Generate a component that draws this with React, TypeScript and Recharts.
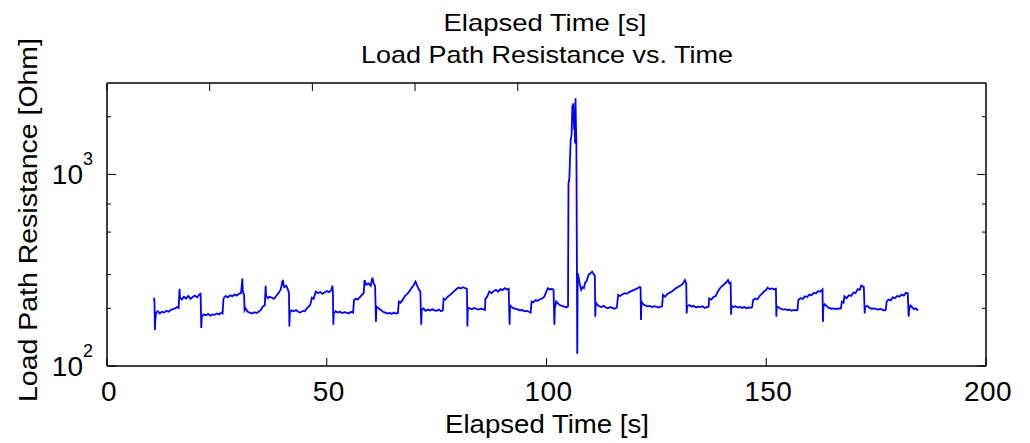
import { Line, LineChart, XAxis, YAxis } from "recharts";

// elapsed time [s], one row per step of the load cycle
const time = [
    10.7, 10.8, 10.9, 11.0, 11.2, 11.6, 12.0, 12.5, 13.0, 13.5, 14.0, 14.5, 15.0, 15.5, 16.0, 16.3,
    16.5, 16.6, 17.0, 17.5, 18.0, 18.5, 19.0, 19.5, 20.0, 20.5, 21.0, 21.3,
    21.45, 21.55, 22.0, 22.5, 23.0, 23.5, 24.0, 24.5, 25.0, 25.5, 26.0, 26.3,
    26.5, 27.0, 27.5, 28.0, 28.5, 29.0, 29.5, 30.0, 30.5, 30.8, 30.9, 31.2,
    31.3, 31.5, 32.0, 32.5, 33.0, 33.5, 34.0, 34.5, 35.0, 35.5, 35.9,
    36.1, 36.2, 36.6, 37.0, 37.5, 38.0, 38.5, 39.0, 39.5, 40.0, 40.3, 40.8, 41.2, 41.4,
    41.5, 41.6, 42.0, 42.5, 43.0, 43.5, 44.0, 44.5, 45.0, 45.5, 46.0, 46.3,
    46.6, 47.0, 47.5, 48.0, 48.5, 49.0, 49.5, 50.0, 50.5, 51.0, 51.3, 51.4,
    51.5, 51.6, 52.0, 52.5, 53.0, 53.5, 54.0, 54.5, 55.0, 55.5, 56.0,
    56.2, 56.6, 57.0, 57.5, 58.0, 58.4, 58.6, 59.0, 59.5, 60.0, 60.4, 60.7, 61.0,
    61.2, 61.3, 61.8, 62.3, 62.8, 63.3, 63.8, 64.3, 64.8, 65.3, 65.8, 66.2,
    66.4, 66.8, 67.3, 67.8, 68.3, 68.8, 69.3, 69.8, 70.2, 70.6, 71.0, 71.3,
    71.5, 71.6, 72.0, 72.5, 73.0, 73.5, 74.0, 74.5, 75.0, 75.5, 76.0, 76.4,
    76.6, 77.0, 77.5, 78.0, 78.5, 79.0, 79.6, 80.0, 80.5, 81.0, 81.5, 81.9,
    82.0, 82.1, 82.5, 83.0, 83.5, 84.0, 84.5, 85.0, 85.5, 86.0,
    86.1, 86.5, 87.0, 87.5, 88.0, 88.5, 89.0, 89.5, 90.0, 90.5, 91.0, 91.4,
    91.6, 91.7, 92.0, 92.5, 93.0, 93.5, 94.0, 94.5, 95.0, 95.5, 96.0, 96.4,
    96.6, 97.0, 97.5, 98.0, 98.5, 99.0, 99.5, 100.0, 100.3, 100.7, 101.2, 101.6,
    101.8, 101.9, 102.2, 102.6, 103.0, 103.5, 104.0, 104.5, 104.9,
    105.0, 105.2, 105.5, 105.7, 105.9, 106.0, 106.1, 106.3, 106.4, 106.5, 106.6, 106.7, 106.8, 107.0,
    107.1, 107.3, 107.6, 107.9, 108.2, 108.5, 108.8, 109.2, 109.6, 110.0, 110.4, 110.8, 111.0,
    111.1, 111.2, 111.6, 112.0, 112.5, 113.0, 113.5, 114.0, 114.5, 115.0, 115.5, 116.0,
    116.3, 116.8, 117.3, 117.8, 118.3, 118.8, 119.3, 119.8, 120.3, 120.8, 121.2, 121.4,
    121.5, 121.6, 122.0, 122.5, 123.0, 123.5, 124.0, 124.5, 125.0, 125.5, 126.0, 126.3,
    126.5, 127.0, 127.5, 128.0, 128.5, 129.0, 129.5, 130.0, 130.5, 131.0, 131.5, 131.8,
    131.9, 132.0, 132.5, 133.0, 133.5, 134.0, 134.5, 135.0, 135.5, 136.0, 136.5, 136.9,
    137.0, 137.5, 138.0, 138.5, 139.0, 139.5, 140.0, 140.5, 141.0, 141.3, 141.6, 141.9,
    142.0, 142.1, 142.5, 143.0, 143.5, 144.0, 144.5, 145.0, 145.5, 146.0, 146.5, 146.8,
    147.0, 147.5, 148.0, 148.5, 149.0, 149.5, 150.0, 150.3, 150.8, 151.3, 151.8, 152.2,
    152.3, 152.4, 152.8, 153.3, 153.8, 154.3, 154.8, 155.3, 155.8, 156.3, 156.8, 157.1,
    157.3, 157.8, 158.3, 158.8, 159.3, 159.8, 160.3, 160.8, 161.3, 161.8, 162.3, 162.8,
    162.9, 163.0, 163.3, 163.8, 164.3, 164.8, 165.3, 165.8, 166.3, 166.7, 167.0,
    167.2, 167.6, 167.8, 168.3, 168.8, 169.3, 169.8, 170.3, 170.8, 171.3, 171.6, 172.2,
    172.4, 172.5, 173.0, 173.5, 174.0, 174.5, 175.0, 175.5, 176.0, 176.5, 177.0, 177.2,
    177.4, 177.8, 178.3, 178.8, 179.3, 179.8, 180.3, 180.8, 181.3, 181.8, 182.2,
    182.4, 182.5, 182.8, 183.2, 183.6, 184.0, 184.3, 184.6,
];

// load path resistance [Ohm], same rows as time
const resistance = [
    227, 215, 154, 175, 190, 193, 188, 192, 190, 194, 192, 196, 198, 200, 203, 201,
    253, 228, 222, 230, 225, 232, 224, 229, 233, 228, 236, 238,
    158, 180, 186, 184, 187, 183, 186, 185, 188, 186, 190, 188,
    225, 232, 228, 234, 231, 236, 233, 238, 240, 286, 245, 235,
    196, 200, 192, 190, 188, 191, 189, 192, 196, 205, 207,
    262, 232, 226, 230, 227, 224, 232, 240, 250, 281, 258, 262, 250, 240,
    161, 190, 195, 193, 196, 192, 190, 194, 193, 200, 205, 210,
    227, 224, 245, 240, 244, 238, 242, 246, 243, 248, 262, 245,
    164, 188, 193, 190, 192, 189, 191, 190, 188, 192, 190,
    221, 225, 222, 228, 235, 240, 281, 265, 270, 262, 289, 268, 262,
    170, 205, 200, 196, 192, 190, 188, 189, 187, 190, 188, 189,
    217, 214, 222, 232, 238, 245, 255, 265, 276, 262, 250, 245,
    164, 196, 200, 194, 197, 195, 198, 195, 194, 197, 193, 195,
    225, 222, 230, 234, 240, 246, 253, 257, 254, 258, 255, 253,
    161, 202, 200, 198, 201, 199, 197, 199, 198, 196,
    225, 230, 245, 240, 246, 250, 244, 252, 249, 255, 251, 253,
    164, 207, 204, 200, 199, 197, 195, 196, 193, 194, 192, 190,
    217, 215, 221, 219, 223, 225, 230, 245, 255, 251, 253, 250,
    164, 200, 217, 212, 208, 206, 204, 202, 205,
    899, 950, 1512, 1600, 2300, 2100, 2350, 1700, 2000, 1450, 2496, 1800, 1450, 116,
    305, 290, 265, 250, 258, 255, 272, 280, 300, 305, 311, 300, 295,
    181, 215, 208, 205, 203, 206, 202, 200, 203, 201, 199, 202,
    235, 232, 237, 240, 238, 243, 246, 249, 252, 255, 259, 257,
    174, 217, 210, 207, 205, 206, 203, 205, 204, 202, 204, 205,
    235, 230, 238, 241, 245, 250, 255, 259, 263, 268, 281, 270,
    188, 205, 208, 204, 206, 202, 204, 203, 205, 201, 203, 204,
    225, 222, 229, 232, 245, 255, 262, 268, 275, 281, 270, 272,
    185, 206, 203, 205, 202, 204, 201, 203, 200, 202, 201, 203,
    221, 225, 223, 232, 238, 245, 250, 256, 252, 254, 251, 253,
    181, 205, 202, 199, 197, 198, 196, 197, 194, 196, 195, 196,
    221, 226, 224, 231, 229, 236, 234, 241, 239, 246, 244, 251,
    170, 204, 210, 205, 201, 199, 200, 198, 200, 199, 200,
    217, 214, 231, 226, 234, 232, 242, 240, 252, 250, 263, 258,
    188, 203, 206, 201, 199, 200, 198, 197, 199, 196, 195, 197,
    217, 222, 220, 228, 226, 232, 230, 236, 233, 241, 240,
    181, 196, 207, 203, 198, 200, 197, 196,
];

const xTicks = [0, 50, 100, 150, 200];
const yTicks = [100, 200, 300, 400, 500, 600, 700, 800, 900, 1000, 2000];

const data = time.map((t, i) => ({ t, r: resistance[i] }));

const FONT = "'Liberation Sans', Arial, Helvetica, sans-serif";
const axisLine = { stroke: "#000", strokeWidth: 1.5 };

const isDecade = (v: number) => Math.abs(Math.log10(v) - Math.round(Math.log10(v))) < 1e-9;

function BottomTick({ x, y, payload }: any) {
    return (
        <g>
            <line x1={x} x2={x} y1={y} y2={y - 8} stroke="#000" />
            <text x={x + 2} y={y + 35} textAnchor="middle" fontFamily={FONT} fontSize={28} letterSpacing={0.5} fill="#000">
                {payload.value}
            </text>
        </g>
    );
}

function TopTick({ x, y }: any) {
    return <line x1={x} x2={x} y1={y} y2={y + 8} stroke="#000" />;
}

function LeftTick({ x, y, payload }: any) {
    const major = isDecade(payload.value);
    return (
        <g>
            <line x1={x} x2={x + (major ? 9 : 4)} y1={y} y2={y} stroke="#000" />
            {major && (
                <text x={x - 14} y={y + 10} textAnchor="end" fontFamily={FONT} fontSize={28} fill="#000">
                    10<tspan dy={-19} fontSize={18}>{Math.round(Math.log10(payload.value))}</tspan>
                </text>
            )}
        </g>
    );
}

function RightTick({ x, y, payload }: any) {
    const major = isDecade(payload.value);
    return <line x1={x} x2={x - (major ? 9 : 4)} y1={y} y2={y} stroke="#000" />;
}

export default function App() {
    return (
        <div style={{ position: "absolute", left: 0, top: 0, width: 1030, height: 443, background: "#fff" }}>
            <LineChart width={1030} height={443} data={data} margin={{ top: 82, right: 43, bottom: 76, left: 106 }}>
                <XAxis
                    xAxisId="b"
                    dataKey="t"
                    type="number"
                    domain={[0, 200]}
                    ticks={xTicks}
                    allowDataOverflow
                    height={1}
                    tickSize={0}
                    tickMargin={0}
                    axisLine={axisLine}
                    tickLine={false}
                    tick={<BottomTick />}
                />
                <XAxis
                    xAxisId="t"
                    orientation="top"
                    type="number"
                    domain={[0, 200]}
                    ticks={xTicks}
                    allowDataOverflow
                    height={1}
                    tickSize={0}
                    tickMargin={0}
                    axisLine={axisLine}
                    tickLine={false}
                    tick={<TopTick />}
                />
                <YAxis
                    yAxisId="l"
                    scale="log"
                    type="number"
                    domain={[100, 3000]}
                    ticks={yTicks}
                    allowDataOverflow
                    width={1}
                    tickSize={0}
                    tickMargin={0}
                    axisLine={axisLine}
                    tickLine={false}
                    tick={<LeftTick />}
                />
                <YAxis
                    yAxisId="r"
                    orientation="right"
                    scale="log"
                    type="number"
                    domain={[100, 3000]}
                    ticks={yTicks}
                    allowDataOverflow
                    width={1}
                    tickSize={0}
                    tickMargin={0}
                    axisLine={axisLine}
                    tickLine={false}
                    tick={<RightTick />}
                />
                <Line
                    xAxisId="b"
                    yAxisId="l"
                    dataKey="r"
                    type="linear"
                    stroke="#0000ff"
                    strokeWidth={1.8}
                    dot={false}
                    isAnimationActive={false}
                />
            </LineChart>
            <svg width={1030} height={443} style={{ position: "absolute", left: 0, top: 0, pointerEvents: "none" }}>
                <g fontFamily={FONT} fill="#000" textAnchor="middle">
                    <text x={545} y={31} fontSize={24} textLength={203} lengthAdjust="spacingAndGlyphs">
                        Elapsed Time [s]
                    </text>
                    <text x={547} y={62.5} fontSize={24} textLength={372} lengthAdjust="spacingAndGlyphs">
                        Load Path Resistance vs. Time
                    </text>
                    <text x={547} y={433} fontSize={26} textLength={204} lengthAdjust="spacingAndGlyphs">
                        Elapsed Time [s]
                    </text>
                    <text
                        x={37}
                        y={220}
                        fontSize={26}
                        transform="rotate(-90 37 220)"
                        textLength={364}
                        lengthAdjust="spacingAndGlyphs"
                    >
                        Load Path Resistance [Ohm]
                    </text>
                </g>
            </svg>
        </div>
    );
}
